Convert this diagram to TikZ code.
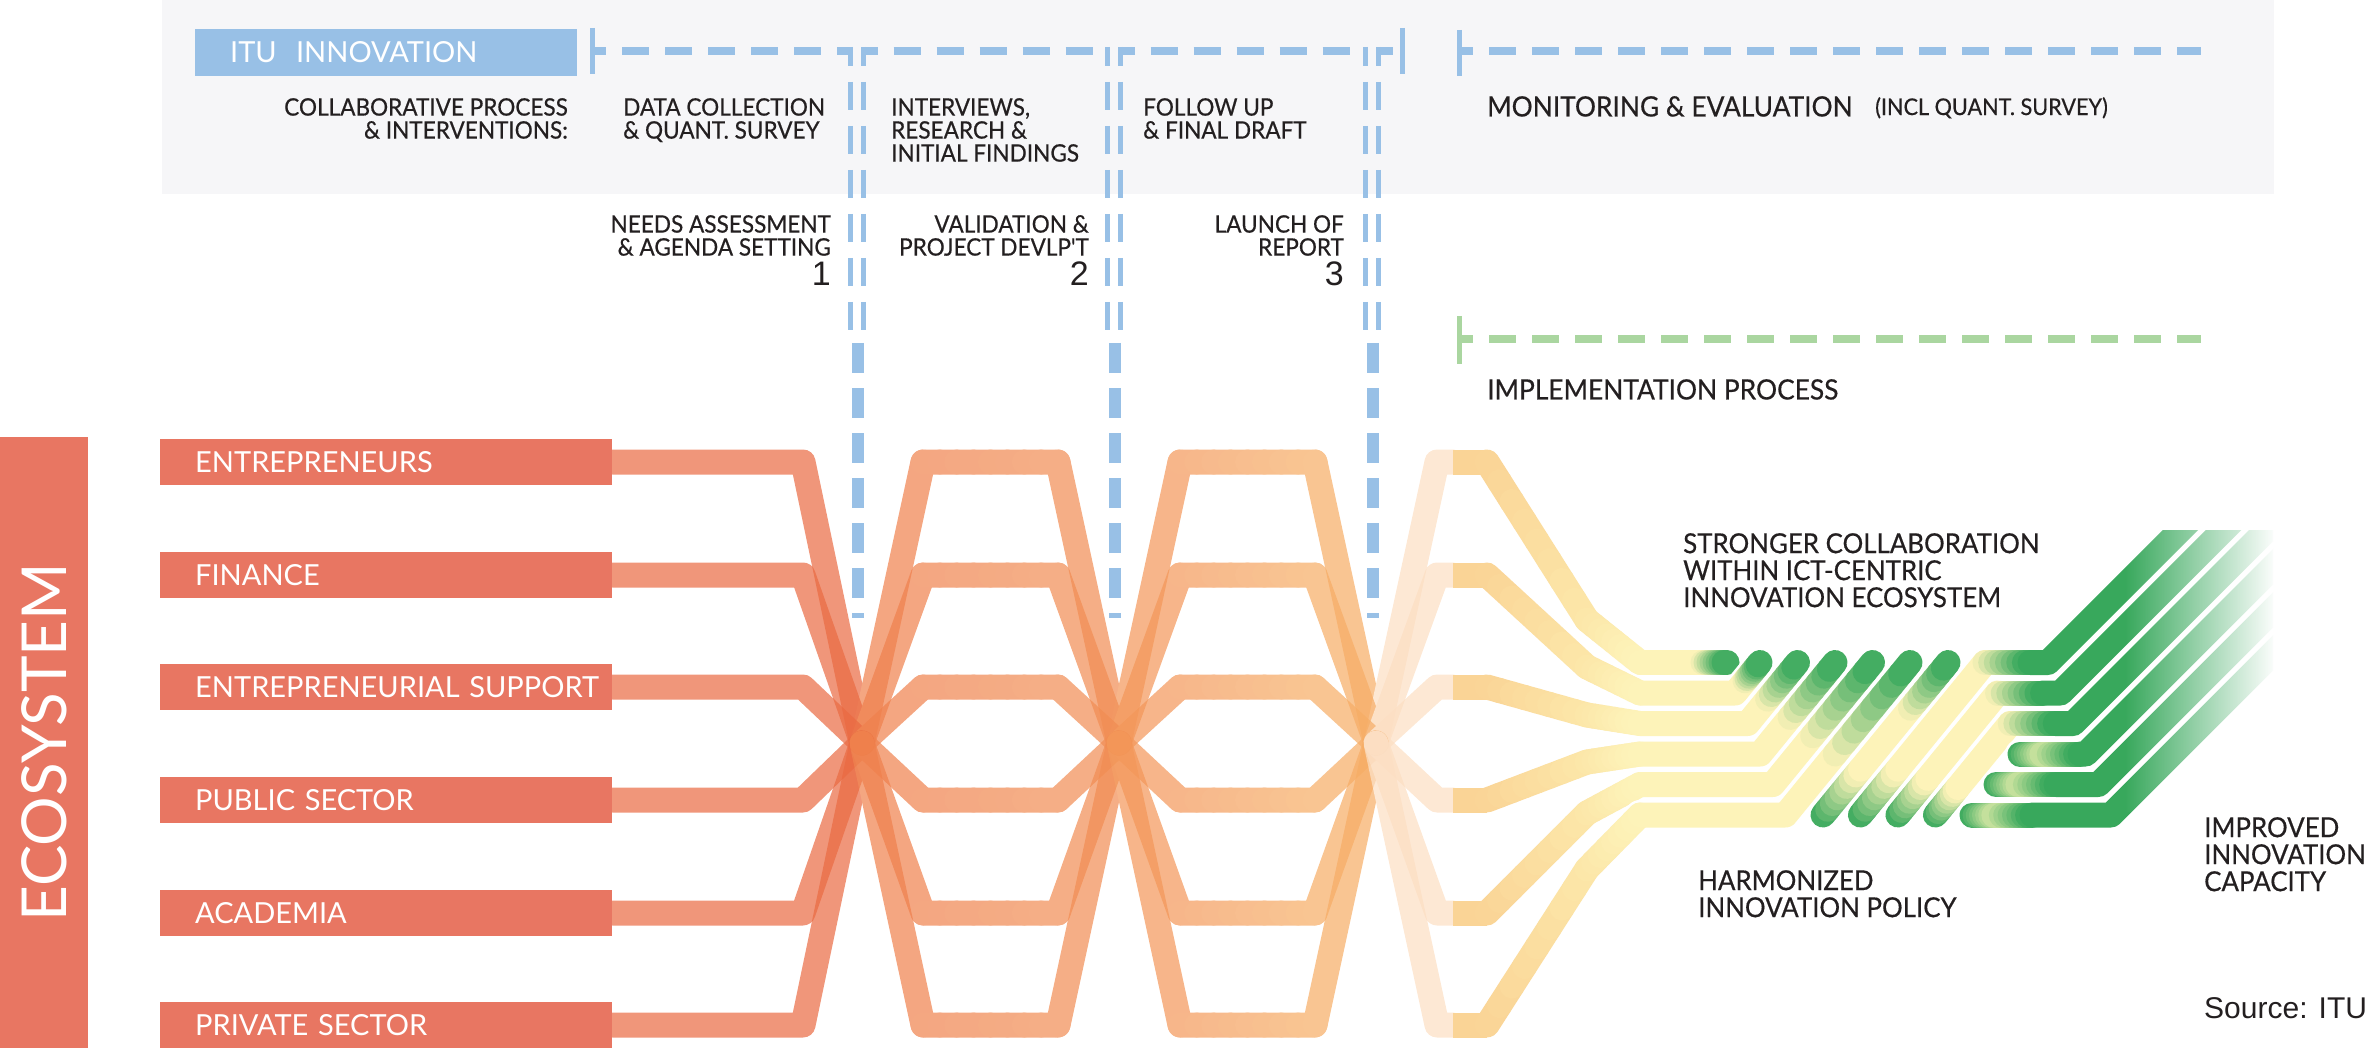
\documentclass[tikz,border=0pt]{standalone}
\usepackage{fontspec}
\setmainfont{Lato}
\newfontfamily\labfont[FakeStretch=0.94,FakeBold=0.5]{Lato}
\newfontfamily\srcfont{Liberation Sans}
\usetikzlibrary{calc,fadings}
\pgfdeclarelayer{ribbons}
\pgfsetlayers{ribbons,main}
\tikzfading[name=fadegreen, left color=transparent!100, right color=transparent!0]

\definecolor{barred}{RGB}{232,118,98}
\definecolor{itublue}{RGB}{152,192,230}
\definecolor{impgreen}{RGB}{170,214,160}
\definecolor{panel}{RGB}{246,246,248}
\definecolor{ink}{RGB}{35,31,32}
\definecolor{o1}{RGB}{233,105,65}
\definecolor{o2}{RGB}{239,128,76}
\definecolor{o3}{RGB}{241,140,82}
\definecolor{o4}{RGB}{243,150,88}
\definecolor{o5}{RGB}{246,172,100}
\definecolor{pale}{RGB}{252,222,194}
\definecolor{y1}{RGB}{250,212,150}
\definecolor{y2}{RGB}{252,230,168}
\definecolor{y3}{RGB}{253,243,185}
\definecolor{gr}{RGB}{56,168,92}
\definecolor{lg}{RGB}{205,228,160}

\newcommand{\gseg}[4]{%
  \foreach \gi in {1,...,8}{%
    \pgfmathsetmacro\gpa{(\gi-1)/8}%
    \pgfmathsetmacro\gpb{\gi/8}%
    \pgfmathsetmacro\gpc{100-(\gi-0.5)*12.5}%
    \draw[rib, color=#3!\gpc!#4] ($#1!\gpa!#2$) -- ($#1!\gpb!#2$);}}

\newcommand{\orib}[1]{%
  \begin{scope}[transparency group, opacity=0.7]
    \draw[rib, o1] (#1.east) -- (#1.east -| a1) -- (x1);
    \draw[rib, o2] (x1) -- (#1.east -| b1);
    \gseg{(#1.east -| b1)}{(#1.east -| b2)}{o2}{o3}
    \draw[rib, o3] (#1.east -| b2) -- (x2);
    \draw[rib, o4] (x2) -- (#1.east -| c1);
    \gseg{(#1.east -| c1)}{(#1.east -| c2)}{o4}{o5}
    \draw[rib, o5] (#1.east -| c2) -- (x3);
    \draw[rib, pale] (x3) -- (#1.east -| d1) -- (#1.east -| d2);
  \end{scope}}

\newcommand{\yrib}[5]{%
  \draw[wrib] (#1.east -| e1) -- (1587,#2) -- (1640,#3) -- (#4,#3) -- (#5,662.5);
  \fill[y1] ($(#1.east -| d2)+(0,-12.5)$) rectangle ($(#1.east -| e1)+(0,12.5)$);
  \gseg{(#1.east -| e1)}{(1587,#2)}{y1}{y2}
  \gseg{(1587,#2)}{(1640,#3)}{y2}{y3}
  \coordinate (yq) at ($(#4,#3)!0.4!(#5,662.5)$);
  \draw[rib, y3] (1640,#3) -- (#4,#3) -- (yq);
  \gseg{(yq)}{(#5,662.5)}{y3}{gr}}

\newcommand{\rrib}[4]{%
  \draw[wrib] (#1,815) -- (#3,#2) -- (#4,#2) -- ++(300,-300);
  \coordinate (rq) at ($(#1,815)!0.3!(#3,#2)$);
  \gseg{(#1,815)}{(rq)}{gr}{y3}
  \draw[rib, y3] (rq) -- (#3,#2);
  \gseg{(#3,#2)}{(#3+45,#2)}{y3}{gr}
  \draw[rib, gr] (#3+45,#2) -- (#4,#2) -- ++(300,-300);}

\newcommand{\srib}[3]{%
  \draw[wrib] (#1,#2) -- (#3,#2) -- ++(300,-300);
  \gseg{(#1,#2)}{(#1+25,#2)}{gr}{lg}
  \gseg{(#1+25,#2)}{(#1+60,#2)}{lg}{gr}
  \draw[rib, gr] (#1+60,#2) -- (#3,#2) -- ++(300,-300);}

\begin{document}
\begin{tikzpicture}[x=1pt, y=-1pt,
    rib/.style={line width=25pt, line cap=round, line join=round},
    wrib/.style={line width=30pt, white, line cap=round, line join=round},
    catbar/.style={anchor=west, fill=barred, text=white, minimum height=46pt, text width=382pt,
      inner xsep=35pt, inner ysep=0pt, align=left, font=\fontsize{29}{29}\selectfont},
    lbl/.style={text=ink, inner sep=0pt, font=\labfont\fontsize{24}{23}\selectfont},
    biglbl/.style={text=ink, inner sep=0pt, font=\labfont\fontsize{28}{28}\selectfont},
    outlbl/.style={text=ink, inner sep=0pt, align=left, font=\labfont\fontsize{27.5}{27}\selectfont},
    stagenum/.style={text=ink, inner sep=0pt, font=\srcfont\fontsize{34}{34}\selectfont},
    bluedash/.style={draw=itublue, line width=8pt, dash pattern=on 27pt off 16pt, dash phase=13pt},
    twinline/.style={draw=itublue, line width=5pt, dash pattern=on 28pt off 16pt, dash phase=9pt},
    thickline/.style={draw=itublue, line width=12pt, dash pattern=on 30pt off 15pt},
    endmark/.style={line width=5pt}]
\useasboundingbox (0,0) rectangle (2374,1048);

\fill[panel] (162,0) rectangle (2274,194);
\node[anchor=west, fill=itublue, text=white, minimum height=47pt, text width=312pt, inner xsep=35pt,
  inner ysep=0pt, font=\fontsize{29}{29}\selectfont] (itu) at (195,52.5) {ITU~ INNOVATION};

\draw[itublue, endmark] (592,28) -- (592,74);
\draw[bluedash] (592,51) -- (850.5,51);
\draw[bluedash] (863.5,51) -- (1107.5,51);
\draw[bluedash] (1120.5,51) -- (1365.5,51);
\draw[bluedash] (1378.5,51) -- (1402,51);
\draw[itublue, endmark] (1402,28) -- (1402,74);
\foreach \cx in {857,1114,1372}{
  \draw[twinline] (\cx-6.5,47) -- (\cx-6.5,330);
  \draw[twinline] (\cx+6.5,47) -- (\cx+6.5,330);
  \draw[thickline] (\cx+1,343) -- (\cx+1,618);
}
\draw[itublue, endmark] (1459,30) -- (1459,76);
\draw[bluedash] (1459,51) -- (2201,51);
\draw[impgreen, endmark] (1459,316) -- (1459,364);
\draw[bluedash, draw=impgreen] (1459,339) -- (2201,339);

\node[lbl, anchor=north east, align=right] (collab) at (568,98) {COLLABORATIVE PROCESS\\\& INTERVENTIONS:};
\node[lbl, anchor=north west, align=left] (datacol) at (623,98) {DATA COLLECTION\\\& QUANT. SURVEY};
\node[lbl, anchor=north west, align=left] (interv) at (891,98) {INTERVIEWS,\\RESEARCH \&\\INITIAL FINDINGS};
\node[lbl, anchor=north west, align=left] (followup) at (1143,98) {FOLLOW UP\\\& FINAL DRAFT};
\node[biglbl, anchor=north west] (monit) at (1487,96) {MONITORING \& EVALUATION};
\node[lbl, anchor=north west, font=\labfont\fontsize{23}{23}\selectfont] (inclq) at (1875,97) {(INCL QUANT. SURVEY)};
\node[lbl, anchor=north east, align=right] (needs) at (831,215) {NEEDS ASSESSMENT\\\& AGENDA SETTING};
\node[lbl, anchor=north east, align=right] (valid) at (1089,215) {VALIDATION \&\\PROJECT DEVLP'T};
\node[lbl, anchor=north east, align=right] (launch) at (1344,215) {LAUNCH OF\\REPORT};
\node[stagenum, anchor=north east] (one) at (831,262) {1};
\node[stagenum, anchor=north east] (two) at (1089,262) {2};
\node[stagenum, anchor=north east] (three) at (1344,262) {3};
\node[biglbl, anchor=north west] (impl) at (1487,379) {IMPLEMENTATION PROCESS};

\node[fill=barred, rotate=90, minimum width=611pt, minimum height=88pt, inner sep=0pt, text=white,
  font=\fontsize{62}{62}\selectfont] (eco) at (44,742.5) {ECOSYSTEM};
\node[catbar] (ent) at (160,462) {ENTREPRENEURS};
\node[catbar] (fin) at (160,575) {FINANCE};
\node[catbar] (sup) at (160,687) {\mbox{ENTREPRENEURIAL SUPPORT}};
\node[catbar] (pub) at (160,800) {PUBLIC SECTOR};
\node[catbar] (aca) at (160,913) {ACADEMIA};
\node[catbar] (pri) at (160,1025) {PRIVATE SECTOR};

\coordinate (x1) at (862,743);
\coordinate (x2) at (1119,743);
\coordinate (x3) at (1376,743);
\coordinate (a1) at (803,0);
\coordinate (b1) at (923,0);
\coordinate (b2) at (1058,0);
\coordinate (c1) at (1180,0);
\coordinate (c2) at (1315,0);
\coordinate (d1) at (1437,0);
\coordinate (d2) at (1453,0);
\coordinate (e1) at (1487,0);

\begin{pgfonlayer}{ribbons}
\foreach \n in {ent,fin,sup,pub,aca,pri}{\orib{\n}}
\begin{scope}
  \clip (1400,380) -- (2100,380) -- (2100,530) -- (2273,530) -- (2273,1048) -- (1400,1048) -- cycle;
  \yrib{ent}{620}{662.5}{1687}{1727}
  \yrib{fin}{667}{693}{1735.1}{1760}
  \yrib{sup}{715}{723.5}{1747.7}{1797.5}
  \yrib{pub}{762}{754}{1760.2}{1835}
  \yrib{aca}{813}{784.5}{1772.8}{1872.5}
  \yrib{pri}{869}{815}{1785.4}{1910}
  \draw[wrib] (1823,815) -- (1948,662.5);
  \coordinate (s1) at ($(1823,815)!0.3!(1948,662.5)$);
  \coordinate (s2) at ($(1823,815)!0.7!(1948,662.5)$);
  \gseg{(1823,815)}{(s1)}{gr}{y3}
  \draw[rib, y3] (s1) -- (s2);
  \gseg{(s2)}{(1948,662.5)}{y3}{gr}
  \rrib{1860.4}{662.5}{1985}{2048}
  \rrib{1897.9}{693}{1997.6}{2060.6}
  \rrib{1935.4}{723.5}{2010.2}{2073.2}
  \srib{2020}{754}{2085.8}
  \srib{1996}{784.5}{2098.4}
  \srib{1972}{815}{2111}
\end{scope}
\end{pgfonlayer}
\fill[white, path fading=fadegreen] (2125,520) rectangle (2276,812);

\node[outlbl, anchor=north west] (stronger) at (1683,533) {STRONGER COLLABORATION\\WITHIN ICT-CENTRIC\\INNOVATION ECOSYSTEM};
\node[outlbl, anchor=north west] (harmon) at (1698,870) {HARMONIZED\\INNOVATION POLICY};
\node[outlbl, anchor=north west] (improved) at (2204,817) {IMPROVED\\INNOVATION\\CAPACITY};
\node[anchor=north west, inner sep=0pt, text=ink, font=\srcfont\fontsize{30}{30}\selectfont] (source) at (2204,997) {Source: ITU};
\end{tikzpicture}
\end{document}
